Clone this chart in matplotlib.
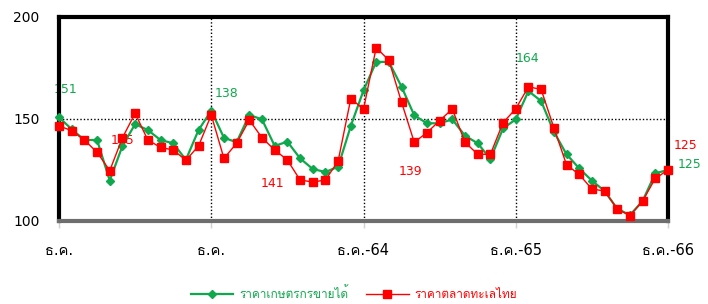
import matplotlib
matplotlib.use("Agg")
import matplotlib.pyplot as plt

# ราคาเดือน ธ.ค.62 - ธ.ค.66 (49 เดือน)
green_price = [150.8, 145, 139.7, 139.7, 119.8, 136.8, 147.5, 144.6, 139.7, 138.1, 130, 144.6,
               154.1, 140.8, 138.6, 152, 149.8, 136.8, 138.9, 130.7, 125.5, 124, 126.6, 146.6,
               164, 178, 178, 165.8, 151.8, 147.9, 147.9, 149.8, 141.8, 138.1, 130.4, 145.4,
               149.8, 163.7, 158.8, 143.8, 132.7, 125.8, 119.8, 114.7, 106, 102.9, 109.8, 123.4,
               125]
red_price = [146.6, 144.3, 139.7, 133.7, 124.7, 140.8, 152.8, 139.7, 136.1, 134.8, 129.8, 136.8,
             152, 130.7, 138.1, 149.5, 140.8, 134.8, 129.9, 120.1, 119.1, 120.1, 129.4, 160,
             154.8, 185, 178.8, 158.2, 138.6, 143.3, 149.2, 154.9, 138.6, 132.7, 132.7, 148.2,
             155, 165.8, 164.5, 145.8, 127.6, 122.8, 115.7, 114.7, 105.9, 102.6, 109.8, 120.9,
             125]
names = ["ราคาเกษตรกรขายได้", "ราคาตลาดทะเลไทย"]
xlabels = ["ธ.ค.", "ธ.ค.", "ธ.ค.-64", "ธ.ค.-65", "ธ.ค.-66"]
green_notes = [(0.5, 164.7, "151"), (13.2, 162.7, "138"), (36.9, 179.9, "164"), (49.7, 127.5, "125")]
red_notes = [(5.0, 139.7, "145"), (16.8, 118.6, "141"), (27.7, 124.5, "139"), (49.4, 136.8, "125")]

GREEN = "#0FA84C"
RED = "#FF0000"
plt.rcParams["font.family"] = ["DejaVu Sans", "Loma"]

fig = plt.figure(figsize=(7.08, 3.04), dpi=100)
ax = fig.add_axes([59 / 708, 1 - 221 / 304, 609 / 708, 204 / 304])

x = list(range(len(green_price)))
ax.plot(x, green_price, color=GREEN, lw=1.6, marker="D", ms=3.6, label=names[0],
        clip_on=False, zorder=3)
ax.plot(x, red_price, color=RED, lw=1.0, marker="s", ms=5.3, label=names[1],
        clip_on=False, zorder=4)

for xx, yy, t in green_notes:
    ax.text(xx, yy, t, color=GREEN, fontsize=9, ha="center", va="center", clip_on=False, zorder=2)
for xx, yy, t in red_notes:
    ax.text(xx, yy, t, color=RED, fontsize=9, ha="center", va="center", clip_on=False, zorder=2)

ax.set_xlim(0, 48)
ax.set_ylim(100, 200)
ax.set_yticks([100, 150, 200])
ax.set_xticks([0, 12, 24, 36, 48])
ax.set_xticklabels(xlabels)
ax.tick_params(axis="y", length=0, labelsize=10, pad=14)
ax.tick_params(axis="x", length=5, color="#d0d0d0", width=1, labelsize=10.5, pad=11)

ax.axhline(150, color="black", lw=1, ls=(0, (1, 1.5)), zorder=1)
for v in [12, 24, 36]:
    ax.axvline(v, color="black", lw=1, ls=(0, (1, 1.5)), zorder=1)

for s in ["left", "top", "right"]:
    ax.spines[s].set_linewidth(3)
    ax.spines[s].set_color("black")
ax.spines["bottom"].set_linewidth(3)
ax.spines["bottom"].set_color("#6e6e6e")

leg = fig.legend(loc="center", bbox_to_anchor=(0.5, 1 - 294 / 304), ncol=2, frameon=False,
                 fontsize=8.5, handlelength=3.6, columnspacing=1.5, handletextpad=0.5)
for txt, c in zip(leg.get_texts(), [GREEN, RED]):
    txt.set_color(c)

fig.savefig("out.png", dpi=100)
